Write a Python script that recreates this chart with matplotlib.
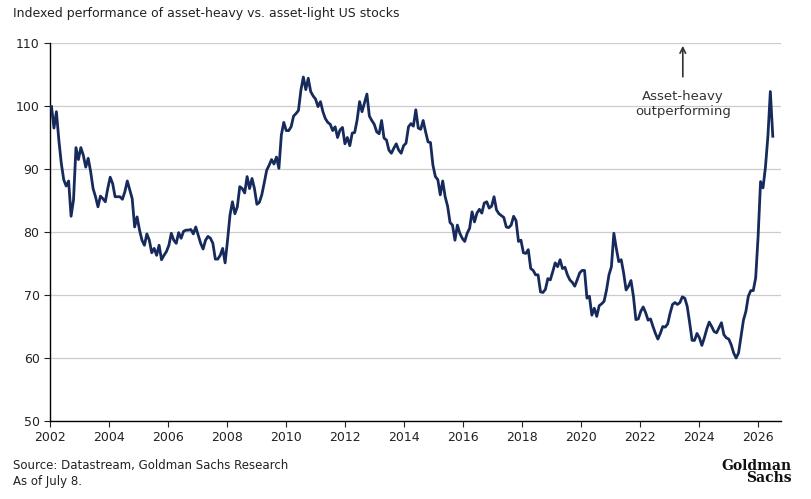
import numpy as np
import matplotlib.pyplot as plt

# monthly index readings, Feb 2002 .. Jul 2026
index_2002_2008 = [99.9, 96.5, 99.1, 94.6, 90.9, 88.3, 87.3, 88.1, 82.5, 85.1, 93.4, 91.5, 93.4, 92.2,
                   90.3, 91.7, 89.6, 86.9, 85.6, 84.0, 85.7, 85.3, 84.8, 86.9, 88.7, 87.7, 85.6, 85.6,
                   85.6, 85.2, 86.4, 88.1, 86.7, 85.3, 80.8, 82.4, 80.3, 78.7, 77.9, 79.7, 78.7, 76.7,
                   77.4, 76.3, 77.9, 75.6, 76.3, 76.9, 77.9, 79.8, 78.7, 78.2, 79.9, 79.0, 80.1, 80.3,
                   80.3, 80.4, 79.7, 80.8, 79.5, 78.2, 77.3, 78.7, 79.3, 79.0, 78.2, 75.7, 75.7, 76.3,
                   77.4, 75.1, 78.7, 82.7, 84.8, 82.9, 84.0, 87.2]
index_2008_2014 = [86.9, 86.2, 88.8, 86.9, 88.5, 86.9, 84.4, 84.7, 85.9, 87.8, 89.8, 90.6, 91.5, 90.8,
                   91.9, 90.1, 95.4, 97.4, 96.1, 96.1, 96.7, 98.4, 98.8, 99.3, 102.5, 104.6, 102.6, 104.4,
                   102.3, 101.6, 101.1, 99.9, 100.7, 99.1, 98.0, 97.4, 97.1, 96.1, 96.7, 95.0, 96.2, 96.6,
                   94.0, 95.0, 93.7, 95.7, 95.8, 97.8, 100.7, 99.1, 100.5, 101.9, 98.4, 97.7, 97.1, 95.9,
                   95.6, 97.7, 94.9, 94.6, 93.0, 92.5, 93.3, 94.0, 93.0, 92.5, 93.7, 94.1, 96.7, 97.2,
                   96.8, 99.4, 96.5, 96.3, 97.7, 95.9, 94.3]
index_2015_2021 = [94.2, 90.6, 88.8, 88.3, 85.9, 88.1, 85.6, 84.1, 81.5, 81.1, 78.7, 81.1, 79.8, 79.0,
                   78.5, 79.8, 80.6, 83.2, 81.6, 83.0, 83.6, 83.0, 84.6, 84.8, 83.8, 84.1, 85.6, 83.5,
                   82.9, 82.6, 82.3, 80.8, 80.7, 81.1, 82.5, 81.8, 78.5, 78.7, 76.7, 76.6, 77.2, 74.2,
                   73.9, 73.2, 73.2, 70.5, 70.4, 70.9, 72.6, 72.4, 73.7, 75.1, 74.5, 75.6, 74.2, 74.4,
                   73.2, 72.4, 72.0, 71.4, 72.4, 73.5, 73.9, 73.9, 69.5, 69.8, 66.8, 67.9, 66.6, 68.3,
                   68.6, 69.0, 70.8, 73.2, 74.5, 79.8, 77.4, 75.3]
index_2021_2026 = [75.6, 73.5, 70.8, 71.4, 72.3, 69.8, 66.1, 66.2, 67.4, 68.1, 67.2, 66.0, 66.2, 65.0,
                   63.9, 63.0, 63.9, 65.0, 64.9, 65.4, 67.1, 68.5, 68.8, 68.5, 68.8, 69.7, 69.5, 68.2,
                   65.6, 62.8, 62.8, 63.9, 63.2, 62.0, 63.2, 64.6, 65.7, 65.0, 64.2, 64.0, 64.8, 65.6,
                   63.7, 63.2, 63.0, 62.1, 60.8, 60.0, 60.8, 63.4, 66.0, 67.4, 69.8, 70.7, 70.7, 72.7,
                   79.3, 88.0, 87.0, 90.3, 95.2, 102.3, 95.2]

values = index_2002_2008 + index_2008_2014 + index_2015_2021 + index_2021_2026
years = np.linspace(2002.05, 2026.5, len(values))

x_ticks = list(range(2002, 2027, 2))
y_ticks = list(range(50, 111, 10))

navy = '#172a5c'
fig = plt.figure(figsize=(8.11, 4.99), dpi=100)
ax = fig.add_axes([0.0617, 0.1563, 0.901, 0.7575])

ax.plot(years, values, color=navy, linewidth=2.0, zorder=3)

ax.set_xlim(2002, 2026.77)
ax.set_ylim(50, 110)
ax.set_xticks(x_ticks)
ax.set_yticks(y_ticks)
ax.tick_params(labelsize=9, colors='#222222', length=4)
ax.grid(axis='y', color='#cccccc', linewidth=0.9)
ax.set_axisbelow(True)
for s in ['top', 'right']:
    ax.spines[s].set_visible(False)
for s in ['left', 'bottom']:
    ax.spines[s].set_color('black')
    ax.spines[s].set_linewidth(1.0)

# annotation
ax.annotate('', xy=(2023.45, 110), xytext=(2023.45, 104.2),
            arrowprops=dict(arrowstyle='->', color='#333333', lw=1.2), annotation_clip=False)
ax.text(2023.45, 100.3, 'Asset-heavy\noutperforming', ha='center', va='center',
        fontsize=9.5, color='#333333', linespacing=1.2)

fig.text(0.016, 0.972, 'Indexed performance of asset-heavy vs. asset-light US stocks',
         fontsize=9, color='#222222', va='center')
fig.text(0.016, 0.068, 'Source: Datastream, Goldman Sachs Research', fontsize=8.5,
         color='#222222', va='center')
fig.text(0.016, 0.036, 'As of July 8.', fontsize=8.5, color='#222222', va='center')
fig.text(0.976, 0.054, 'Goldman\nSachs', fontsize=10, family='DejaVu Serif', weight='bold',
         ha='right', va='center', linespacing=0.85, color='#111111')

fig.savefig('out.png', dpi=100)
